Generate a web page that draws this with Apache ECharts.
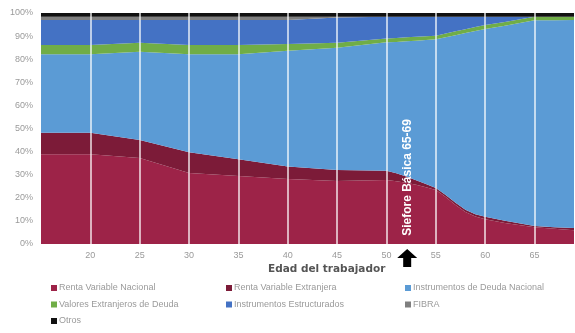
<!DOCTYPE html>
<html>
<head>
<meta charset="utf-8">
<script src="https://cdn.jsdelivr.net/npm/echarts@6/dist/echarts.min.js"></script>
<style>
  html, body { margin: 0; padding: 0; background: #ffffff; }
  #chart { width: 575px; height: 333px; }
</style>
</head>
<body>
<div id="chart"></div>
<script>
// Edad del trabajador (años)
const ages = [15, 20, 25, 30, 35, 40, 45, 50, 51, 52, 53, 54, 55, 56, 57, 58, 59, 60, 62, 65, 67, 69];

// Composición de la cartera (% del total) por edad
const rentaVarNacional   = [38.8, 38.9, 37.2, 30.7, 29.4, 28.1, 27.3, 27.7, 27.2, 26.5, 25.6, 24.6, 23.4, 20.3, 16.9, 13.8, 11.9, 10.7, 9.1, 7.2, 6.6, 6.0];
const rentaVarExtranjera = [9.4, 9.3, 7.8, 9.0, 7.3, 5.4, 4.7, 4.0, 3.4, 2.7, 2.0, 1.4, 0.8, 0.9, 1.0, 1.0, 1.0, 1.1, 1.0, 0.6, 0.7, 0.9];
const deudaNacional      = [33.9, 33.9, 38.2, 42.4, 45.4, 50.2, 53.0, 55.6, 56.9, 58.6, 60.4, 62.3, 64.4, 68.3, 72.5, 76.5, 79.3, 81.3, 84.4, 89.1, 89.6, 90.1];
const deudaExtranjera    = [4.0, 4.0, 3.9, 4.0, 4.0, 2.9, 2.1, 1.7, 1.7, 1.7, 1.7, 1.6, 1.6, 1.6, 1.7, 1.7, 1.7, 1.7, 1.6, 1.5, 1.5, 1.4];
const estructurados      = [10.9, 10.9, 9.9, 10.9, 10.9, 10.4, 10.9, 9.4, 9.2, 8.9, 8.7, 8.5, 8.2, 7.3, 6.3, 5.4, 4.5, 3.6, 2.3, 0, 0, 0];
const fibra              = [1.4, 1.4, 1.4, 1.4, 1.4, 1.4, 0.4, 0, 0, 0, 0, 0, 0, 0, 0, 0, 0, 0, 0, 0, 0, 0];
const otros              = [1.6, 1.6, 1.6, 1.6, 1.6, 1.6, 1.6, 1.6, 1.6, 1.6, 1.6, 1.6, 1.6, 1.6, 1.6, 1.6, 1.6, 1.6, 1.6, 1.6, 1.6, 1.6];

const seriesNames = [
  'Renta Variable Nacional',
  'Renta Variable Extranjera',
  'Instrumentos de Deuda Nacional',
  'Valores Extranjeros de Deuda',
  'Instrumentos Estructurados',
  'FIBRA',
  'Otros'
];
const seriesValues = [rentaVarNacional, rentaVarExtranjera, deudaNacional, deudaExtranjera, estructurados, fibra, otros];
const seriesColors = ['#9d2348', '#7c1b38', '#5b9bd5', '#70ad47', '#4472c4', '#7f7f7f', '#111111'];

const xTickMin = 15, xTickMax = 69, xTickStep = 5;
const yTickMin = 0, yTickMax = 100, yTickStep = 10;

const fontFamily = '"Liberation Sans", Arial, sans-serif';
const labelColor = '#9a9a9a';

const chart = echarts.init(document.getElementById('chart'), null, { renderer: 'canvas' });

// Each point is stored as [percentage, age] so the percentage is the
// first numeric dimension, which is the one the stack accumulates.
const series = seriesNames.map((name, i) => ({
  name: name,
  type: 'line',
  stack: 'cartera',
  showSymbol: false,
  symbol: 'none',
  lineStyle: { width: 0 },
  areaStyle: { color: seriesColors[i], opacity: 1 },
  itemStyle: { color: seriesColors[i] },
  z: 2,
  encode: { x: 1, y: 0 },
  data: ages.map((a, k) => [seriesValues[i][k], a])
}));

const legendBase = {
  orient: 'vertical',
  icon: 'rect',
  itemWidth: 6,
  itemHeight: 6,
  itemGap: 6.5,
  padding: 0,
  top: 283,
  selectedMode: false,
  textStyle: { color: labelColor, fontSize: 9, fontFamily: fontFamily, lineHeight: 10, padding: [0, 0, 0, -3] }
};

const option = {
  animation: false,
  backgroundColor: '#ffffff',
  title: {
    text: 'Edad del trabajador',
    left: 268,
    top: 264,
    padding: 0,
    textStyle: { color: '#555555', fontSize: 10.5, fontWeight: 'bold', fontFamily: '"DejaVu Sans", sans-serif' }
  },
  grid: { left: 41, right: 1, top: 13, bottom: 89, containLabel: false },
  legend: [
    Object.assign({}, legendBase, { left: 51, data: [seriesNames[0], seriesNames[3], seriesNames[6]] }),
    Object.assign({}, legendBase, { left: 226, data: [seriesNames[1], seriesNames[4]] }),
    Object.assign({}, legendBase, { left: 405, data: [seriesNames[2], seriesNames[5]] })
  ],
  xAxis: {
    type: 'value',
    min: xTickMin,
    max: xTickMax,
    interval: xTickStep,
    z: 10,
    axisLine: { show: false },
    axisTick: { show: false },
    axisLabel: {
      color: labelColor, fontSize: 9, fontFamily: fontFamily, margin: 7,
      showMaxLabel: false,
      formatter: v => (v === xTickMin ? '' : String(v))
    },
    splitLine: {
      show: true,
      showMinLine: false,
      showMaxLine: false,
      lineStyle: { color: 'rgba(255,255,255,0.65)', width: 2 }
    }
  },
  yAxis: {
    type: 'value',
    min: yTickMin,
    max: yTickMax,
    interval: yTickStep,
    axisLine: { show: false },
    axisTick: { show: false },
    splitLine: { show: false },
    axisLabel: { color: labelColor, fontSize: 9, fontFamily: fontFamily, margin: 8, formatter: '{value}%' }
  },
  series: series
};

chart.setOption(option);

// Etiqueta vertical y flecha que señalan la Siefore Básica 65-69
const markerAge = 52.1;
const labelCenter = chart.convertToPixel({ gridIndex: 0 }, [markerAge, 28.8]);
const axisBase = chart.convertToPixel({ gridIndex: 0 }, [markerAge, 0]);
const ax = axisBase[0], ay = axisBase[1];

chart.setOption({
  graphic: [
    {
      type: 'text',
      x: labelCenter[0],
      y: labelCenter[1],
      rotation: Math.PI / 2,
      z: 20,
      style: {
        text: 'Siefore Básica 65-69',
        fill: '#ffffff',
        font: 'bold 12px ' + fontFamily,
        textAlign: 'center',
        textVerticalAlign: 'middle'
      }
    },
    {
      type: 'polygon',
      z: 20,
      shape: {
        points: [
          [ax, ay + 5],
          [ax + 10, ay + 14],
          [ax + 4, ay + 14],
          [ax + 4, ay + 23],
          [ax - 4, ay + 23],
          [ax - 4, ay + 14],
          [ax - 10, ay + 14]
        ]
      },
      style: { fill: '#000000' }
    }
  ]
});
</script>
</body>
</html>
